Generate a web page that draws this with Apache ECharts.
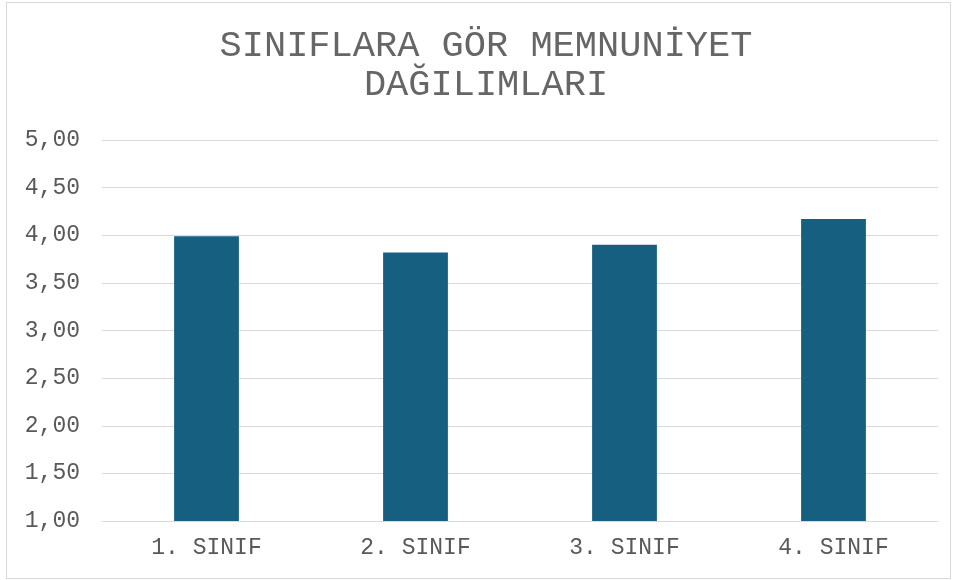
<!DOCTYPE html>
<html>
<head>
<meta charset="utf-8">
<script src="https://cdn.jsdelivr.net/npm/echarts@6/dist/echarts.min.js"></script>
<style>
  html, body { margin: 0; padding: 0; background: #fff; }
  #wrap { position: relative; width: 956px; height: 580px; }
  #chart { width: 956px; height: 580px; }
  #frame {
    position: absolute; left: 6px; top: 2px; width: 943px; height: 575px;
    border: 1px solid #d9d9d9; pointer-events: none;
  }
</style>
</head>
<body>
<div id="wrap">
  <div id="chart"></div>
  <div id="frame"></div>
</div>
<script>
// --- data ---
const titleLines = ["SINIFLARA GÖR MEMNUNİYET", "DAĞILIMLARI"];
const categories = ["1. SINIF", "2. SINIF", "3. SINIF", "4. SINIF"];
const values = [3.99, 3.82, 3.90, 4.17];
const yMin = 1, yMax = 5, yStep = 0.5;

const FONT = "'Liberation Mono', 'Courier New', monospace";

const chart = echarts.init(document.getElementById("chart"));

chart.setOption({
  animation: false,
  title: {
    text: titleLines.join("\n"),
    left: 481,
    textAlign: "center",
    top: 22,
    textStyle: {
      fontFamily: FONT,
      fontSize: 37,
      fontWeight: "normal",
      color: "#666666",
      lineHeight: 39
    }
  },
  grid: { left: 102, right: 18, top: 140, bottom: 59 },
  xAxis: {
    type: "category",
    data: categories,
    axisLine: { lineStyle: { color: "#d9d9d9", width: 1 } },
    axisTick: { show: false },
    axisLabel: {
      fontFamily: FONT, fontSize: 23, color: "#595959", margin: 15
    }
  },
  yAxis: {
    type: "value",
    min: yMin, max: yMax, interval: yStep,
    axisLine: { show: false },
    axisTick: { show: false },
    splitLine: { lineStyle: { color: "#d9d9d9", width: 1 } },
    axisLabel: {
      fontFamily: FONT, fontSize: 23, color: "#595959", margin: 22,
      formatter: v => v.toFixed(2).replace(".", ",")
    }
  },
  series: [{
    type: "bar",
    data: values,
    barWidth: "31%",
    itemStyle: { color: "#175f80" }
  }]
});
</script>
</body>
</html>
